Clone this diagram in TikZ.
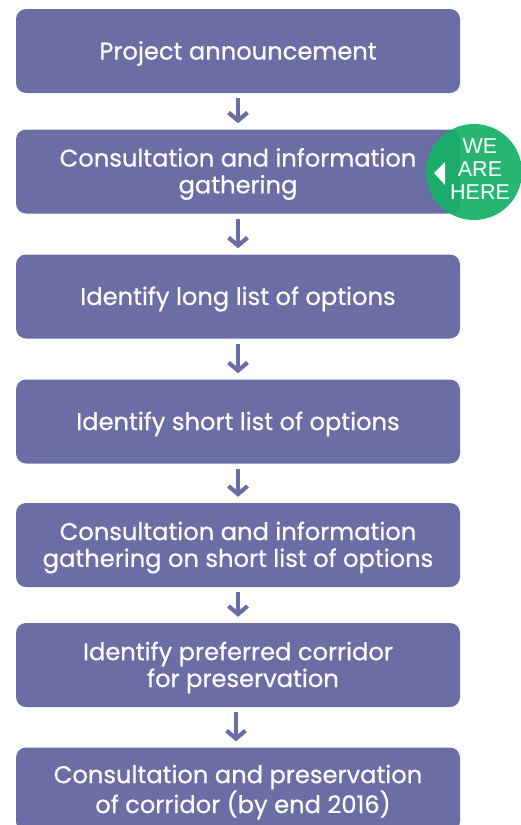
\documentclass[tikz,border=0pt]{standalone}
\usepackage{fontspec}
\setmainfont{Poppins}[UprightFeatures={FakeBold=0.5}]
\newfontfamily\herefont{Liberation Sans}
\usetikzlibrary{arrows.meta}
\definecolor{boxpurple}{HTML}{6A6EA5}
\definecolor{heregreen}{HTML}{16B066}
\begin{document}
\begin{tikzpicture}[x=1pt,y=-1pt,
  stepbox/.style={fill=boxpurple, draw=none, rounded corners=10pt, minimum width=444pt, minimum height=84pt, inner sep=0pt},
  steptext/.style={text=white, align=center, inner sep=0pt, yshift=-2.5pt, font=\fontsize{24.2}{26.8}\selectfont},
  flowarrow/.style={draw=boxpurple, line width=4.2pt, -{Straight Barb[length=8pt, width=19pt, line width=4.2pt]}, shorten <=5pt, shorten >=6pt}
  ]
\useasboundingbox (0,0) rectangle (521,825);
\node[stepbox, label={[steptext]center:Project announcement}] (b1) at (238,51) {};
\node[stepbox, label={[steptext]center:Consultation and information\\gathering}] (b2) at (238,171.5) {};
\node[stepbox, label={[steptext]center:Identify long list of options}] (b3) at (238,296.5) {};
\node[stepbox, label={[steptext]center:Identify short list of options}] (b4) at (238,421.5) {};
\node[stepbox, label={[steptext]center:Consultation and information\\gathering on short list of options}] (b5) at (238,545) {};
\node[stepbox, label={[steptext]center:Identify preferred corridor\\\hspace*{10pt}for preservation}] (b6) at (238,665) {};
\node[stepbox, label={[steptext]center:Consultation and preservation\\\hspace*{10pt}of corridor (by end 2016)}] (b7) at (238,789.5) {};
\foreach \a/\b in {b1/b2,b2/b3,b3/b4,b4/b5,b5/b6}
  \draw[flowarrow] (\a.south) -- (\b.north);
\draw[flowarrow] ([xshift=-2pt]b6.south) -- ([xshift=-2pt]b7.north);
\node[circle, fill=heregreen, fill opacity=0.93, minimum size=96pt, inner sep=0pt] (here) at (474,172) {};
\node[text=white, align=center, font=\herefont\fontsize{21.5}{22.8}\selectfont, inner sep=0pt] (heretext) at (480,169) {WE\\ARE\\HERE};
\fill[white] (434,173) -- (445,162) -- (445,185) -- cycle;
\end{tikzpicture}
\end{document}
